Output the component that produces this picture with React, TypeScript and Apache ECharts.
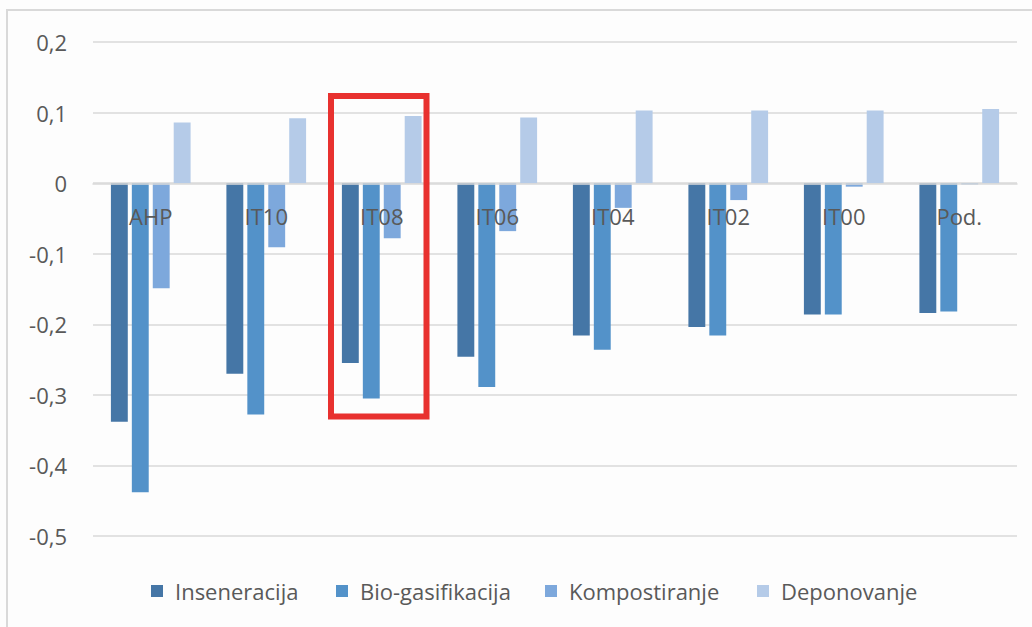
import React, { useEffect, useRef } from "react";
import * as echarts from "echarts";

const categories = ["AHP", "IT10", "IT08", "IT06", "IT04", "IT02", "IT00", "Pod."];
const seriesNames = ["Inseneracija", "Bio-gasifikacija", "Kompostiranje", "Deponovanje"];
const inseneracija = [-0.338, -0.27, -0.255, -0.246, -0.216, -0.204, -0.186, -0.184];
const bioGasifikacija = [-0.438, -0.328, -0.305, -0.289, -0.236, -0.216, -0.186, -0.182];
const kompostiranje = [-0.149, -0.091, -0.078, -0.068, -0.035, -0.024, -0.005, -0.002];
const deponovanje = [0.086, 0.092, 0.095, 0.093, 0.103, 0.103, 0.103, 0.105];
const colors = ["#4576A6", "#5392C9", "#7DA8DC", "#B5CBE8"];
const legendLefts = [151, 336, 545, 757];

export default function App() {
  const ref = useRef<HTMLDivElement>(null);
  useEffect(() => {
    if (!ref.current) return;
    const chart = echarts.init(ref.current, null, { renderer: "svg" });
    const font = "'Open Sans', 'Noto Sans', sans-serif";
    const data = [inseneracija, bioGasifikacija, kompostiranje, deponovanje];
    chart.setOption({
      animation: false,
      backgroundColor: "#fdfdfd",
      textStyle: { fontFamily: font },
      grid: { left: 93, right: 15, top: 42, bottom: 91, containLabel: false },
      legend: seriesNames.map((name, i) => ({
        left: legendLefts[i],
        top: 580,
        padding: 0,
        itemWidth: 12,
        itemHeight: 12,
        icon: "rect",
        textStyle: { fontSize: 22, color: "#595959", fontFamily: font, padding: [0, 0, 0, 7] },
        data: [name],
      })),
      xAxis: {
        type: "category",
        data: categories,
        offset: -352,
        axisLine: { onZero: false, lineStyle: { color: "#d9d9d9", width: 1.5 } },
        axisTick: { show: false },
        axisLabel: { fontSize: 22, color: "#595959", margin: 21, fontFamily: font },
        z: 10,
      },
      yAxis: {
        type: "value",
        min: -0.5,
        max: 0.2,
        interval: 0.1,
        axisLine: { show: false },
        axisTick: { show: false },
        splitLine: { lineStyle: { color: "#d9d9d9", width: 1.5 } },
        axisLabel: {
          fontSize: 22,
          color: "#595959",
          margin: 26,
          fontFamily: font,
          formatter: (v: number) => {
            const r = Math.round(v * 10) / 10;
            if (r === 0) return "0";
            return r.toFixed(1).replace(".", ",");
          },
        },
      },
      series: seriesNames.map((name, i) => ({
        name,
        type: "bar",
        data: data[i],
        barGap: "24%",
        barCategoryGap: "31%",
        itemStyle: { color: colors[i] },
      })),
      graphic: [
        {
          type: "rect",
          shape: { x: 7, y: 10, width: 1100, height: 700 },
          style: { fill: "none", stroke: "#d9d9d9", lineWidth: 2 },
          silent: true,
        },
        {
          type: "rect",
          shape: { x: 331, y: 96, width: 95.5, height: 320.5 },
          style: { fill: "none", stroke: "#E8312F", lineWidth: 6 },
          z: 100,
          silent: true,
        },
      ],
    });
    return () => chart.dispose();
  }, []);
  return (
    <div
      ref={ref}
      style={{ position: "fixed", left: 0, top: 0, width: 1032, height: 627 }}
    />
  );
}
